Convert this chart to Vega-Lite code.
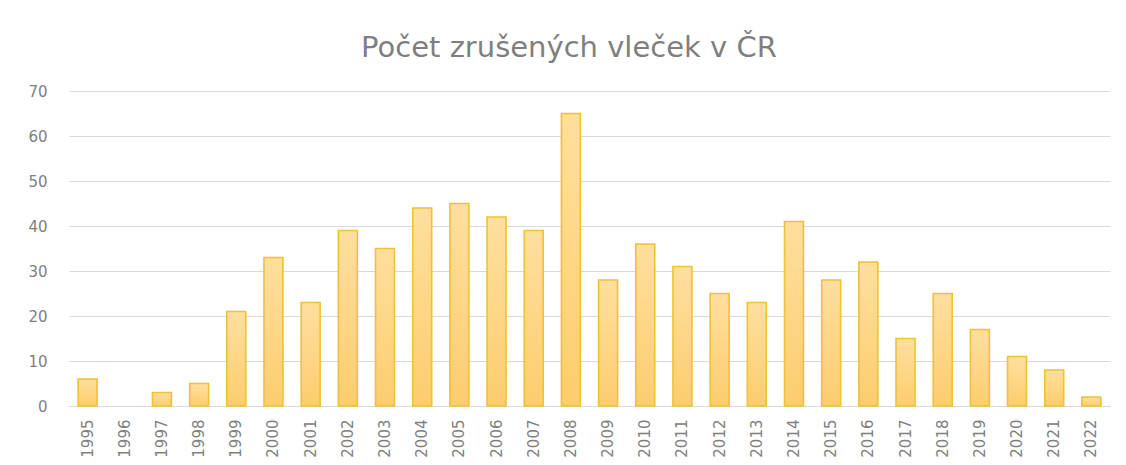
{
  "$schema": "https://vega.github.io/schema/vega-lite/v6.json",
  "autosize": {"type": "none"},
  "width": 1041,
  "height": 315,
  "padding": {"left": 69, "top": 91, "right": 16, "bottom": 59},
  "background": "white",
  "title": {
    "text": "Počet zrušených vleček v ČR",
    "font": "DejaVu Sans",
    "fontSize": 29,
    "fontWeight": "normal",
    "color": "#7F7F7F",
    "anchor": "middle",
    "frame": "bounds",
    "offset": 21
  },
  "data": {
    "values": [
      {"rok": "1995", "pocet": 6},
      {"rok": "1996", "pocet": 0},
      {"rok": "1997", "pocet": 3},
      {"rok": "1998", "pocet": 5},
      {"rok": "1999", "pocet": 21},
      {"rok": "2000", "pocet": 33},
      {"rok": "2001", "pocet": 23},
      {"rok": "2002", "pocet": 39},
      {"rok": "2003", "pocet": 35},
      {"rok": "2004", "pocet": 44},
      {"rok": "2005", "pocet": 45},
      {"rok": "2006", "pocet": 42},
      {"rok": "2007", "pocet": 39},
      {"rok": "2008", "pocet": 65},
      {"rok": "2009", "pocet": 28},
      {"rok": "2010", "pocet": 36},
      {"rok": "2011", "pocet": 31},
      {"rok": "2012", "pocet": 25},
      {"rok": "2013", "pocet": 23},
      {"rok": "2014", "pocet": 41},
      {"rok": "2015", "pocet": 28},
      {"rok": "2016", "pocet": 32},
      {"rok": "2017", "pocet": 15},
      {"rok": "2018", "pocet": 25},
      {"rok": "2019", "pocet": 17},
      {"rok": "2020", "pocet": 11},
      {"rok": "2021", "pocet": 8},
      {"rok": "2022", "pocet": 2}
    ]
  },
  "mark": {
    "type": "bar",
    "stroke": "#F0C133",
    "strokeWidth": 1.6,
    "color": {
      "gradient": "linear",
      "x1": 0, "y1": 0, "x2": 0, "y2": 1,
      "stops": [
        {"offset": 0, "color": "#FFDF9E"},
        {"offset": 1, "color": "#FCCD6E"}
      ]
    }
  },
  "encoding": {
    "x": {
      "field": "rok",
      "type": "ordinal",
      "title": null,
      "scale": {"paddingInner": 0.49, "paddingOuter": 0.245},
      "axis": {
        "labelAngle": -90,
        "labelFont": "DejaVu Sans",
        "labelFontSize": 15,
        "labelColor": "#808080",
        "labelPadding": 13,
        "ticks": false,
        "domain": true,
        "domainColor": "#D9D9D9",
        "domainWidth": 1.2
      }
    },
    "y": {
      "field": "pocet",
      "type": "quantitative",
      "title": null,
      "scale": {"domain": [0, 70]},
      "axis": {
        "values": [0, 10, 20, 30, 40, 50, 60, 70],
        "labelFont": "DejaVu Sans",
        "labelFontSize": 15,
        "labelColor": "#808080",
        "labelPadding": 22,
        "ticks": false,
        "domain": false,
        "gridColor": "#D9D9D9",
        "gridWidth": 1.2
      }
    },
    "strokeOpacity": {
      "condition": {"test": "datum.pocet === 0", "value": 0},
      "value": 1
    }
  },
  "config": {
    "view": {"stroke": null}
  }
}
